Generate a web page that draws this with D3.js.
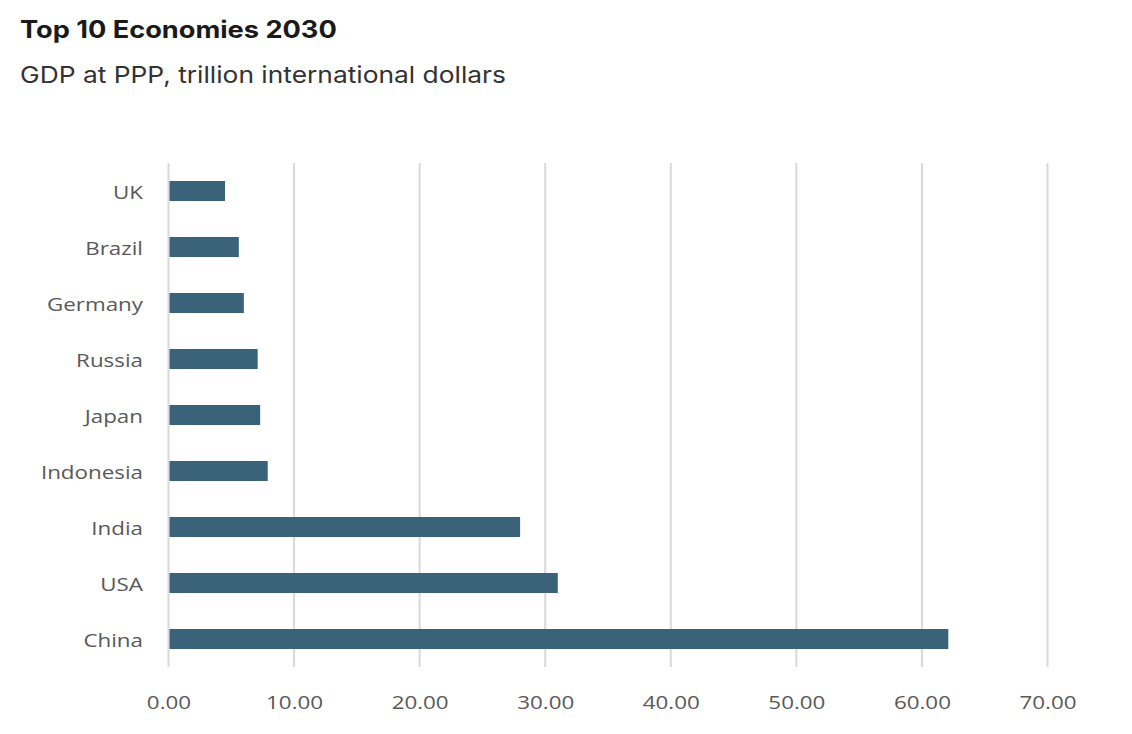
<!DOCTYPE html>
<html><head><meta charset="utf-8">
<script src="https://cdn.jsdelivr.net/npm/d3@7"></script>
<style>
body{margin:0;background:#fff;}
svg{display:block;}
</style></head>
<body>
<script>
const title = "Top 10 Economies 2030";
const subtitle = "GDP at PPP, trillion international dollars";
const countries = ["UK","Brazil","Germany","Russia","Japan","Indonesia","India","USA","China"];
const gdp = [4.5, 5.6, 6.0, 7.1, 7.3, 7.9, 28.0, 31.0, 62.1];
const ticks = [0,10,20,30,40,50,60,70];

const W = 1132, H = 734;
const svg = d3.select("body").append("svg").attr("width",W).attr("height",H);

svg.append("text").attr("transform","translate(20,37.5) scale(1.133,1)").text(title)
  .attr("font-family","Inter, 'Open Sans', sans-serif").attr("font-weight",700)
  .attr("font-size",24).attr("fill","#1a1a1a");
svg.append("text").attr("transform","translate(20,83) scale(1.146,1)").text(subtitle)
  .attr("font-family","Inter, 'Open Sans', sans-serif").attr("font-size",23).attr("fill","#333");

const x = d3.scaleLinear().domain([0,70]).range([168.5, 1047.5]);
const y = d3.scaleBand().domain(countries).range([163, 667]).padding(0);

const grid = svg.append("g");
grid.selectAll("line").data(ticks).join("line")
  .attr("x1",d=>x(d)).attr("x2",d=>x(d)).attr("y1",163).attr("y2",667)
  .attr("stroke","#d9d9d9").attr("stroke-width",2);

const barH = 20;
svg.append("g").selectAll("rect").data(countries).join("rect")
  .attr("x", x(0)+1)
  .attr("y", d=> y(d) + (y.bandwidth()-barH)/2)
  .attr("width", (d,i)=> x(gdp[i]) - x(0) - 1)
  .attr("height", barH)
  .attr("fill","#3a6379");

const sx = 1.21;
const yAxis = svg.append("g").attr("transform",`translate(${x(0)},0)`)
  .call(d3.axisLeft(y).tickSize(0).tickPadding(25.5));
yAxis.select(".domain").remove();
yAxis.selectAll("text").attr("font-family","'Open Sans', sans-serif").attr("font-size",18.5)
  .attr("fill","#595959").attr("dy","0.45em")
  .attr("x", -25.5/sx).attr("transform",`scale(${sx},1)`);

const xAxis = svg.append("g").attr("transform",`translate(0,686)`)
  .call(d3.axisBottom(x).tickValues(ticks).tickFormat(d3.format(".2f")).tickSize(0).tickPadding(10));
xAxis.select(".domain").remove();
xAxis.selectAll("text").attr("font-family","'Open Sans', sans-serif").attr("font-size",18.5)
  .attr("fill","#595959").attr("transform",`scale(${sx},1)`);
</script>
</body></html>
